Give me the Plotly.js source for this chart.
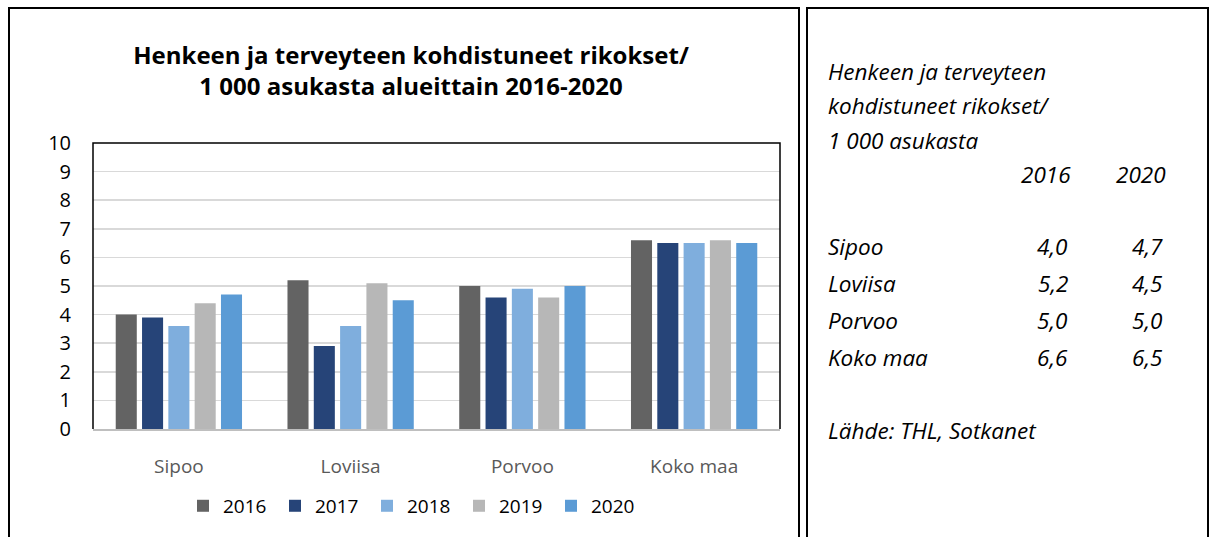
<!DOCTYPE html>
<html><head><meta charset="utf-8">
<script src="https://cdn.plot.ly/plotly-3.0.1.min.js"></script>
<style>html,body{margin:0;padding:0;background:#fff;}#chart{width:1211px;height:537px;}</style>
</head><body><div id="chart"></div>
<script>
const regions = ["Sipoo", "Loviisa", "Porvoo", "Koko maa"];
const years = ["2016", "2017", "2018", "2019", "2020"];
const v2016 = [4.0, 5.2, 5.0, 6.6];
const v2017 = [3.9, 2.9, 4.6, 6.5];
const v2018 = [3.6, 3.6, 4.9, 6.5];
const v2019 = [4.4, 5.1, 4.6, 6.6];
const v2020 = [4.7, 4.5, 5.0, 6.5];
const seriesColors = ["#636363", "#264478", "#7faedd", "#b7b7b7", "#5b9bd5"];
const chartTitle = "Henkeen ja terveyteen kohdistuneet rikokset/<br>1 000 asukasta alueittain 2016-2020";
const sideTitleLines = ["Henkeen ja terveyteen", "kohdistuneet rikokset/", "1 000 asukasta"];
const sideSource = "Lähde: THL, Sotkanet";

const W = 1211, H = 537;
const L = 93, R = 780, T = 143, B = 433;
const px = x => (x - L) / (R - L);
const py = y => (B - y) / (B - T);
const FONT = "'Open Sans', Lato, sans-serif";

const all = [v2016, v2017, v2018, v2019, v2020];
const traces = years.map((yr, i) => ({
  type: "bar", name: yr, x: regions, y: all[i],
  marker: {color: seriesColors[i], line: {width: 0}},
  hoverinfo: "skip"
}));

const fmt = v => v.toFixed(1).replace(".", ",");
const ann = [];
const sideFont = {family: FONT, size: 22.5, color: "#000"};
sideTitleLines.forEach((t, i) => {
  ann.push({xref: "paper", yref: "paper", x: px(826), y: py([71, 105, 140][i]), xanchor: "left", yanchor: "middle",
    text: "<i>" + t + "</i>", showarrow: false, font: sideFont});
});
ann.push({xref: "paper", yref: "paper", x: px(1073), y: py(175), xanchor: "right", yanchor: "middle", text: "<i>" + years[0] + "</i>", showarrow: false, font: sideFont});
ann.push({xref: "paper", yref: "paper", x: px(1168), y: py(175), xanchor: "right", yanchor: "middle", text: "<i>" + years[4] + "</i>", showarrow: false, font: sideFont});
const rowY = [248, 285, 323, 360];
regions.forEach((r, i) => {
  ann.push({xref: "paper", yref: "paper", x: px(826), y: py(rowY[i]), xanchor: "left", yanchor: "middle", text: "<i>" + r + "</i>", showarrow: false, font: sideFont});
  ann.push({xref: "paper", yref: "paper", x: px(1070), y: py(rowY[i]), xanchor: "right", yanchor: "middle", text: "<i>" + fmt(v2016[i]) + "</i>", showarrow: false, font: sideFont});
  ann.push({xref: "paper", yref: "paper", x: px(1165), y: py(rowY[i]), xanchor: "right", yanchor: "middle", text: "<i>" + fmt(v2020[i]) + "</i>", showarrow: false, font: sideFont});
});
ann.push({xref: "paper", yref: "paper", x: px(826), y: py(435), xanchor: "left", yanchor: "middle", text: "<i>" + sideSource + "</i>", showarrow: false, font: sideFont});

const shapes = [
  {type: "rect", xref: "paper", yref: "paper", x0: px(9), x1: px(799), y0: py(560), y1: py(6), line: {color: "#000", width: 2}},
  {type: "rect", xref: "paper", yref: "paper", x0: px(807), x1: px(1208), y0: py(560), y1: py(6), line: {color: "#000", width: 2}},
  {type: "path", xref: "paper", yref: "paper", path: `M0,0 L0,1 L1,1 L1,0`, line: {color: "#000", width: 1.5}}
];

const layout = {
  width: W, height: H,
  margin: {l: L, r: W - R, t: T, b: H - B, pad: 0},
  paper_bgcolor: "#fff", plot_bgcolor: "#fff",
  font: {family: FONT, color: "#000"},
  title: {text: "<b>" + chartTitle + "</b>", font: {family: FONT, size: 24, color: "#000"},
    xref: "paper", x: px(411), xanchor: "center", yref: "container", y: 1 - 64 / H, yanchor: "top"},
  barmode: "group", bargap: 0.234, bargroupgap: 0.2,
  xaxis: {type: "category", showgrid: false, showline: true, linecolor: "#bfbfbf", linewidth: 2,
    ticks: "", tickfont: {family: FONT, size: 19, color: "#595959"}, ticklabelstandoff: 19, fixedrange: true},
  yaxis: {range: [0, 10], dtick: 1, tick0: 0, showgrid: true, gridcolor: "#d9d9d9", gridwidth: 1.5,
    zeroline: false, showline: false, ticks: "", tickfont: {family: FONT, size: 20, color: "#000"},
    ticklabelstandoff: 21, fixedrange: true},
  showlegend: true,
  legend: {orientation: "h", x: px(183), xanchor: "left", y: py(511), yanchor: "middle",
    font: {family: FONT, size: 19, color: "#000"}, entrywidth: 47, traceorder: "normal", bgcolor: "rgba(0,0,0,0)"},
  annotations: ann, shapes: shapes
};
Plotly.newPlot("chart", traces, layout, {displayModeBar: false, staticPlot: true});
</script></body></html>
